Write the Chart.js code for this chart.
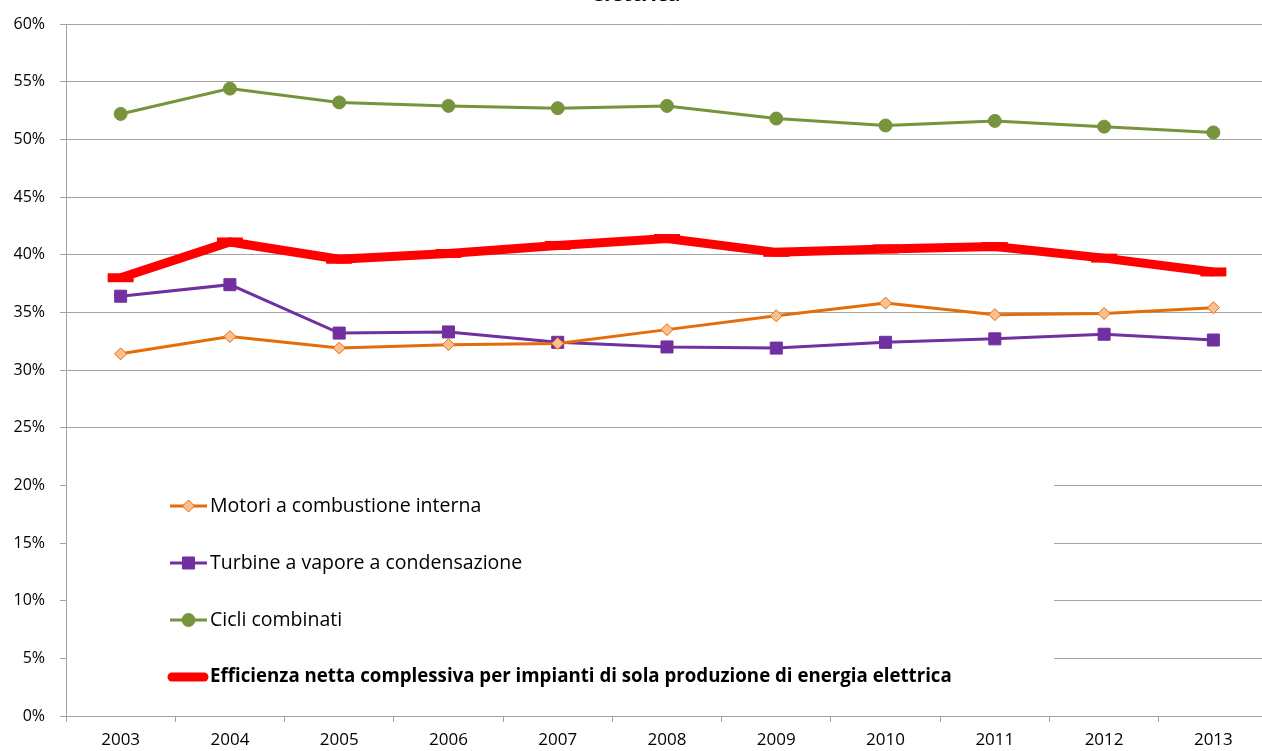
<!DOCTYPE html>
<html>
<head>
<meta charset="utf-8">
<script src="https://cdn.jsdelivr.net/npm/chart.js@4.4.1/dist/chart.umd.min.js"></script>
<style>
  html, body { margin: 0; padding: 0; background: #fff; overflow: hidden; width: 1262px; height: 751px; }
  #wrap { position: absolute; left: 0; top: -18px; width: 1290px; height: 769px; }
</style>
</head>
<body>
<div id="wrap"><canvas id="c" width="1290" height="769"></canvas></div>
<script>
const years = ['2003','2004','2005','2006','2007','2008','2009','2010','2011','2012','2013'];
const motori = [31.4, 32.9, 31.9, 32.2, 32.3, 33.5, 34.7, 35.8, 34.8, 34.9, 35.4];
const turbine = [36.4, 37.4, 33.2, 33.3, 32.4, 32.0, 31.9, 32.4, 32.7, 33.1, 32.6];
const cicli = [52.2, 54.4, 53.2, 52.9, 52.7, 52.9, 51.8, 51.2, 51.6, 51.1, 50.6];
const efficienza = [38.0, 41.1, 39.6, 40.1, 40.8, 41.4, 40.2, 40.5, 40.7, 39.7, 38.5];
const seriesNames = [
  'Motori a combustione interna',
  'Turbine a vapore a condensazione',
  'Cicli combinati',
  'Efficienza netta complessiva per impianti di sola produzione di energia elettrica'
];
const titleText = 'elettrica';

const OFFSET = 18;
const FONT = '"Open Sans", Lato, sans-serif';
const GRID = '#a3a3a3';

const legendPlugin = {
  id: 'boxLegend',
  beforeDatasetsDraw(chart) {
    const ctx = chart.ctx;
    const area = chart.chartArea;
    const x0 = area.left + 1;
    const yScale = chart.scales.y;
    const top = yScale.getPixelForValue(21.2);
    const bottom = yScale.getPixelForValue(1.4);
    ctx.save();
    ctx.fillStyle = '#ffffff';
    ctx.fillRect(x0, top, 1054 - x0, bottom - top);
    const rows = [506, 563, 620, 677].map(v => v + OFFSET);
    chart.data.datasets.forEach((ds, i) => {
      const y = rows[i];
      ctx.save();
      ctx.strokeStyle = ds.borderColor;
      ctx.lineWidth = i === 3 ? 9 : 3;
      ctx.lineCap = i === 3 ? 'round' : 'butt';
      ctx.beginPath();
      ctx.moveTo(i === 3 ? 172 : 170, y);
      ctx.lineTo(i === 3 ? 204 : 207, y);
      ctx.stroke();
      if (i !== 3) {
        ctx.fillStyle = ds.pointBackgroundColor;
        ctx.strokeStyle = ds.pointBorderColor;
        ctx.lineWidth = ds.pointBorderWidth;
        ctx.lineCap = 'butt';
        Chart.helpers.drawPoint(ctx, {
          pointStyle: ds.pointStyle, rotation: 0,
          borderWidth: ds.pointBorderWidth, radius: ds.pointRadius
        }, 188.5, y);
      }
      ctx.fillStyle = '#000';
      ctx.font = (i === 3 ? 'bold 18.7px ' : '19.5px ') + FONT;
      ctx.textAlign = 'left';
      ctx.textBaseline = 'middle';
      ctx.fillText(seriesNames[i], 210, y);
      ctx.restore();
    });
    ctx.restore();
  }
};

new Chart(document.getElementById('c'), {
  type: 'line',
  data: {
    labels: years,
    datasets: [
      {
        label: seriesNames[0], data: motori,
        borderColor: '#E46C0A', borderWidth: 3,
        pointStyle: 'rectRot', pointRadius: 6, pointBackgroundColor: '#FAC090',
        pointBorderColor: '#E46C0A', pointBorderWidth: 1
      },
      {
        label: seriesNames[1], data: turbine,
        borderColor: '#7030A0', borderWidth: 3,
        pointStyle: 'rect', pointRadius: 8.5, pointBackgroundColor: '#7030A0',
        pointBorderColor: '#7030A0', pointBorderWidth: 1
      },
      {
        label: seriesNames[2], data: cicli,
        borderColor: '#77933C', borderWidth: 3,
        pointStyle: 'circle', pointRadius: 6.5, pointBackgroundColor: '#77933C',
        pointBorderColor: '#77933C', pointBorderWidth: 1
      },
      {
        label: seriesNames[3], data: efficienza,
        borderColor: '#FF0000', borderWidth: 9,
        pointStyle: 'line', pointRadius: 13, pointBackgroundColor: '#FF0000',
        pointBorderColor: '#FF0000', pointBorderWidth: 9
      }
    ]
  },
  options: {
    responsive: false,
    animation: false,
    devicePixelRatio: 1,
    layout: { padding: { left: 0, right: 18, top: 0, bottom: 0 } },
    plugins: {
      legend: { display: false },
      tooltip: { enabled: false },
      title: {
        display: true, text: titleText, color: '#000',
        font: { family: FONT, size: 21, weight: 'bold', lineHeight: 1.2 },
        padding: { top: 0, bottom: 24 + OFFSET - 25.2 }
      }
    },
    scales: {
      x: {
        offset: true,
        grid: { offset: true, drawOnChartArea: false, drawTicks: true, tickLength: 6, color: GRID },
        border: { color: GRID, width: 1 },
        ticks: { color: '#000', font: { family: FONT, size: 17 }, padding: 8, maxRotation: 0 },
        afterFit(s) { s.height = 35; }
      },
      y: {
        min: 0, max: 60,
        grid: { color: GRID, tickLength: 6, drawTicks: true },
        border: { color: GRID, width: 1 },
        ticks: { stepSize: 5, color: '#000', font: { family: FONT, size: 16 }, padding: 15,
                 callback: v => v + '%' },
        afterFit(s) { s.width = 66; }
      }
    }
  },
  plugins: [legendPlugin]
});
</script>
</body>
</html>
